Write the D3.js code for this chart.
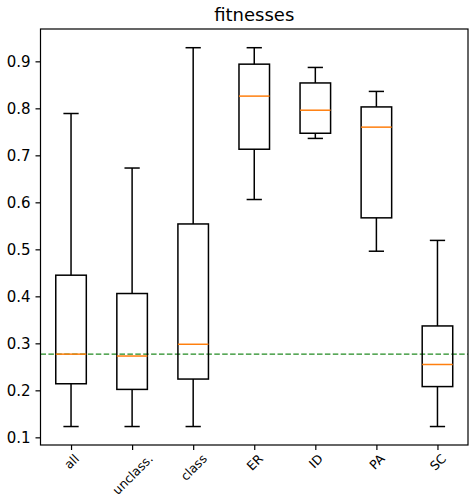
<!DOCTYPE html>
<html>
<head>
<meta charset="utf-8">
<script src="https://cdn.jsdelivr.net/npm/d3@7"></script>
<style>
  body { margin: 0; background: #fff; }
  text { font-family: "DejaVu Sans", sans-serif; fill: #000; }
</style>
</head>
<body>
<div id="chart"></div>
<script>
// categories and box stats
var categories = ["all", "unclass.", "class", "ER", "ID", "PA", "SC"];
var whiskLow  = [0.123, 0.123, 0.123, 0.606, 0.736, 0.496, 0.123];
var q1        = [0.214, 0.202, 0.224, 0.713, 0.747, 0.567, 0.208];
var medians   = [0.277, 0.273, 0.298, 0.826, 0.796, 0.760, 0.255];
var q3        = [0.445, 0.406, 0.554, 0.894, 0.854, 0.803, 0.337];
var whiskHigh = [0.789, 0.673, 0.929, 0.929, 0.887, 0.836, 0.519];
var refLine = 0.277;
var yTicks = [0.1, 0.2, 0.3, 0.4, 0.5, 0.6, 0.7, 0.8, 0.9];

var W = 475, H = 504;
var margin = {top: 29, right: 7, bottom: 59, left: 40.5};

var svg = d3.select("#chart")
  .append("svg")
    .attr("width", W)
    .attr("height", H);

var x = d3.scaleLinear()
  .domain([0.5, 7.5])
  .range([margin.left, W - margin.right]);

var y = d3.scaleLinear()
  .domain([0.0837, 0.9688])
  .range([H - margin.bottom, margin.top]);

var data = categories.map(function (c, i) {
  return {name: c, pos: i + 1, lo: whiskLow[i], q1: q1[i], med: medians[i], q3: q3[i], hi: whiskHigh[i]};
});

var boxW = x(1.25) - x(1);   // half width of box
var capW = x(1.125) - x(1);  // half width of caps

// reference line (dashed green)
svg.append("line")
  .attr("x1", x(0.5)).attr("x2", x(7.5))
  .attr("y1", y(refLine)).attr("y2", y(refLine))
  .attr("stroke", "#228b22")
  .attr("stroke-width", 1.3)
  .attr("stroke-dasharray", "5.5,2.4");

var g = svg.append("g")
  .selectAll("g")
  .data(data)
  .enter()
  .append("g");

// whiskers
g.append("line")
  .attr("x1", function (d) { return x(d.pos); })
  .attr("x2", function (d) { return x(d.pos); })
  .attr("y1", function (d) { return y(d.lo); })
  .attr("y2", function (d) { return y(d.q1); })
  .attr("stroke", "#000").attr("stroke-width", 1.5);
g.append("line")
  .attr("x1", function (d) { return x(d.pos); })
  .attr("x2", function (d) { return x(d.pos); })
  .attr("y1", function (d) { return y(d.q3); })
  .attr("y2", function (d) { return y(d.hi); })
  .attr("stroke", "#000").attr("stroke-width", 1.5);

// caps
["lo", "hi"].forEach(function (k) {
  g.append("line")
    .attr("x1", function (d) { return x(d.pos) - capW; })
    .attr("x2", function (d) { return x(d.pos) + capW; })
    .attr("y1", function (d) { return y(d[k]); })
    .attr("y2", function (d) { return y(d[k]); })
    .attr("stroke", "#000").attr("stroke-width", 1.5);
});

// boxes
g.append("rect")
  .attr("x", function (d) { return x(d.pos) - boxW; })
  .attr("width", boxW * 2)
  .attr("y", function (d) { return y(d.q3); })
  .attr("height", function (d) { return y(d.q1) - y(d.q3); })
  .attr("fill", "none")
  .attr("stroke", "#000").attr("stroke-width", 1.5);

// medians
g.append("line")
  .attr("x1", function (d) { return x(d.pos) - boxW; })
  .attr("x2", function (d) { return x(d.pos) + boxW; })
  .attr("y1", function (d) { return y(d.med); })
  .attr("y2", function (d) { return y(d.med); })
  .attr("stroke", "#ff7f0e").attr("stroke-width", 1.5);

// Y axis
var yAxis = svg.append("g")
  .attr("transform", "translate(" + margin.left + ",0)")
  .call(d3.axisLeft(y).tickValues(yTicks).tickFormat(d3.format(".1f")).tickSizeOuter(0).tickSize(5).tickPadding(5));
yAxis.select(".domain").remove();
yAxis.selectAll("text").style("font-size", "15px").attr("font-family", null);
yAxis.selectAll("line").attr("stroke-width", 1.2);

// X axis
var xAxis = svg.append("g")
  .attr("transform", "translate(0," + (H - margin.bottom) + ")")
  .call(d3.axisBottom(x).tickValues(d3.range(1, 8)).tickFormat(function (d) { return categories[d - 1]; }).tickSizeOuter(0).tickSize(5));
xAxis.select(".domain").remove();
xAxis.selectAll("line").attr("stroke-width", 1.2);
xAxis.selectAll("text")
  .style("font-size", "12.5px")
  .attr("font-family", null)
  .attr("text-anchor", "middle")
  .attr("dy", null)
  .attr("y", 0)
  .attr("transform", function () {
    var len = this.getComputedTextLength();
    var h = 12.5 * 0.75;
    var half = (len + h) * Math.SQRT1_2 / 2;
    return "translate(0," + (8 + half) + ") rotate(-45)";
  })
  .attr("dominant-baseline", "central");

// frame
svg.append("rect")
  .attr("x", x(0.5)).attr("y", margin.top)
  .attr("width", x(7.5) - x(0.5))
  .attr("height", H - margin.bottom - margin.top)
  .attr("fill", "none")
  .attr("stroke", "#000").attr("stroke-width", 1.2);

// title
svg.append("text")
  .attr("x", (x(0.5) + x(7.5)) / 2)
  .attr("y", 21)
  .attr("text-anchor", "middle")
  .style("font-size", "18px")
  .text("fitnesses");
</script>
</body>
</html>
